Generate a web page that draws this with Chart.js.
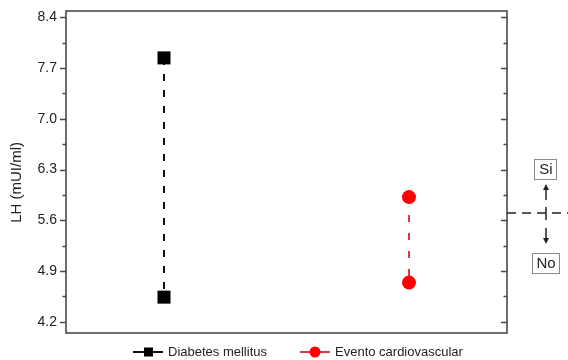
<!DOCTYPE html>
<html>
<head>
<meta charset="utf-8">
<script src="https://cdn.jsdelivr.net/npm/chart.js@4/dist/chart.umd.min.js"></script>
<style>
  body { margin: 0; background: #fff; }
  canvas { display: block; }
</style>
</head>
<body>
<canvas id="lhChart" width="568" height="360"></canvas>
<script>
// Data
const groups = ['Diabetes mellitus', 'Evento cardiovascular'];
const groupPos = [0, 1];
const diabetesValues = [7.84, 4.54];
const cardioValues = [5.92, 4.74];
const yTicks = [4.2, 4.9, 5.6, 6.3, 7.0, 7.7, 8.4];
const thresholdValue = 5.7;

const FONT = '"Liberation Sans", Arial, sans-serif';
const AXIS = '#4a4a4a';

// frame, minor ticks, Si/No marker and legend
const extrasPlugin = {
    id: 'extras',
    afterDraw(chart) {
        const ctx = chart.ctx;
        const area = chart.chartArea;
        const y = chart.scales.y;
        ctx.save();

        // frame
        ctx.strokeStyle = AXIS;
        ctx.lineWidth = 1.6;
        ctx.strokeRect(area.left, area.top, area.right - area.left, area.bottom - area.top);

        // ticks: major + minor, outward on left, inward on right
        ctx.lineWidth = 1.3;
        for (let i = 0; i < yTicks.length; i++) {
            const vals = [yTicks[i]];
            if (i < yTicks.length - 1) vals.push((yTicks[i] + yTicks[i + 1]) / 2);
            vals.forEach((v, k) => {
                const py = Math.round(y.getPixelForValue(v)) + 0.5;
                const len = k === 0 ? 6 : 3.5;
                ctx.beginPath();
                ctx.moveTo(area.left - len, py);
                ctx.lineTo(area.left, py);
                ctx.moveTo(area.right - len, py);
                ctx.lineTo(area.right, py);
                ctx.stroke();
            });
        }

        // threshold marker on the right
        const ty = y.getPixelForValue(thresholdValue);
        const mx = area.right + 39;
        ctx.strokeStyle = '#222';
        ctx.fillStyle = '#222';
        ctx.lineWidth = 1.5;
        ctx.setLineDash([9, 6]);
        ctx.beginPath();
        ctx.moveTo(area.right, ty);
        ctx.lineTo(chart.width, ty);
        ctx.stroke();
        ctx.setLineDash([]);
        ctx.beginPath();
        ctx.moveTo(mx, ty - 6);
        ctx.lineTo(mx, ty + 7);
        // arrows
        ctx.moveTo(mx, ty - 13);
        ctx.lineTo(mx, ty - 24);
        ctx.moveTo(mx, ty + 15);
        ctx.lineTo(mx, ty + 26);
        ctx.stroke();
        ctx.beginPath();
        ctx.moveTo(mx - 3, ty - 23);
        ctx.lineTo(mx + 3, ty - 23);
        ctx.lineTo(mx, ty - 29);
        ctx.closePath();
        ctx.fill();
        ctx.beginPath();
        ctx.moveTo(mx - 3, ty + 25);
        ctx.lineTo(mx + 3, ty + 25);
        ctx.lineTo(mx, ty + 31);
        ctx.closePath();
        ctx.fill();

        // Si / No boxes
        ctx.strokeStyle = '#888';
        ctx.lineWidth = 1;
        ctx.font = '15px ' + FONT;
        ctx.textAlign = 'center';
        ctx.textBaseline = 'middle';
        ctx.strokeRect(mx - 11.5, ty - 53.5, 22, 20);
        ctx.fillText('Si', mx, ty - 43);
        ctx.strokeRect(mx - 13.5, ty + 40.5, 27, 20);
        ctx.fillText('No', mx, ty + 51);

        // legend
        const ly = 352;
        const items = [
            { x: 133, ds: chart.data.datasets[0] },
            { x: 300, ds: chart.data.datasets[1] }
        ];
        ctx.font = '13px ' + FONT;
        ctx.textAlign = 'left';
        items.forEach(it => {
            ctx.strokeStyle = it.ds.borderColor;
            ctx.fillStyle = it.ds.pointBackgroundColor;
            ctx.lineWidth = 2;
            ctx.beginPath();
            ctx.moveTo(it.x, ly);
            ctx.lineTo(it.x + 30, ly);
            ctx.stroke();
            ctx.beginPath();
            if (it.ds.pointStyle === 'rect') {
                ctx.rect(it.x + 11, ly - 4.5, 9, 9);
            } else {
                ctx.arc(it.x + 15, ly, 5.5, 0, Math.PI * 2);
            }
            ctx.fill();
            ctx.fillStyle = '#222';
            ctx.fillText(it.ds.label, it.x + 35, ly);
        });
        ctx.restore();
    }
};

new Chart(document.getElementById('lhChart'), {
    type: 'line',
    data: {
        datasets: [
            {
                label: groups[0],
                data: diabetesValues.map(v => ({ x: groupPos[0], y: v })),
                borderColor: '#111',
                borderWidth: 2,
                borderDash: [7, 9],
                pointStyle: 'rect',
                pointRadius: 9.2,
                pointBackgroundColor: '#000',
                pointBorderWidth: 0
            },
            {
                label: groups[1],
                data: cardioValues.map(v => ({ x: groupPos[1], y: v })),
                borderColor: '#d93a3a',
                borderWidth: 2,
                borderDash: [7, 11],
                pointStyle: 'circle',
                pointRadius: 7,
                pointBackgroundColor: '#ff0000',
                pointBorderWidth: 0
            }
        ]
    },
    options: {
        responsive: false,
        animation: false,
        layout: { padding: { left: 0, right: 61, top: 11, bottom: 27 } },
        plugins: {
            legend: { display: false },
            tooltip: { enabled: false }
        },
        scales: {
            x: {
                type: 'linear',
                display: false,
                min: -0.4,
                max: 1.4
            },
            y: {
                min: 4.045,
                max: 8.487,
                afterBuildTicks: scale => {
                    scale.ticks = yTicks.map(v => ({ value: v }));
                },
                afterFit: scale => {
                    scale.width = 66;
                    scale.paddingTop = 0;
                    scale.paddingBottom = 0;
                },
                grid: { display: false, drawTicks: false },
                border: { display: false },
                ticks: {
                    padding: 9,
                    color: '#222',
                    font: { family: FONT, size: 14 },
                    callback: v => Number(v).toFixed(1)
                },
                title: {
                    display: true,
                    text: 'LH (mUI/ml)' + '\u00a0'.repeat(5),
                    color: '#222',
                    padding: { top: 8, bottom: 0 },
                    font: { family: FONT, size: 15 }
                }
            }
        }
    },
    plugins: [extrasPlugin]
});
</script>
</body>
</html>
